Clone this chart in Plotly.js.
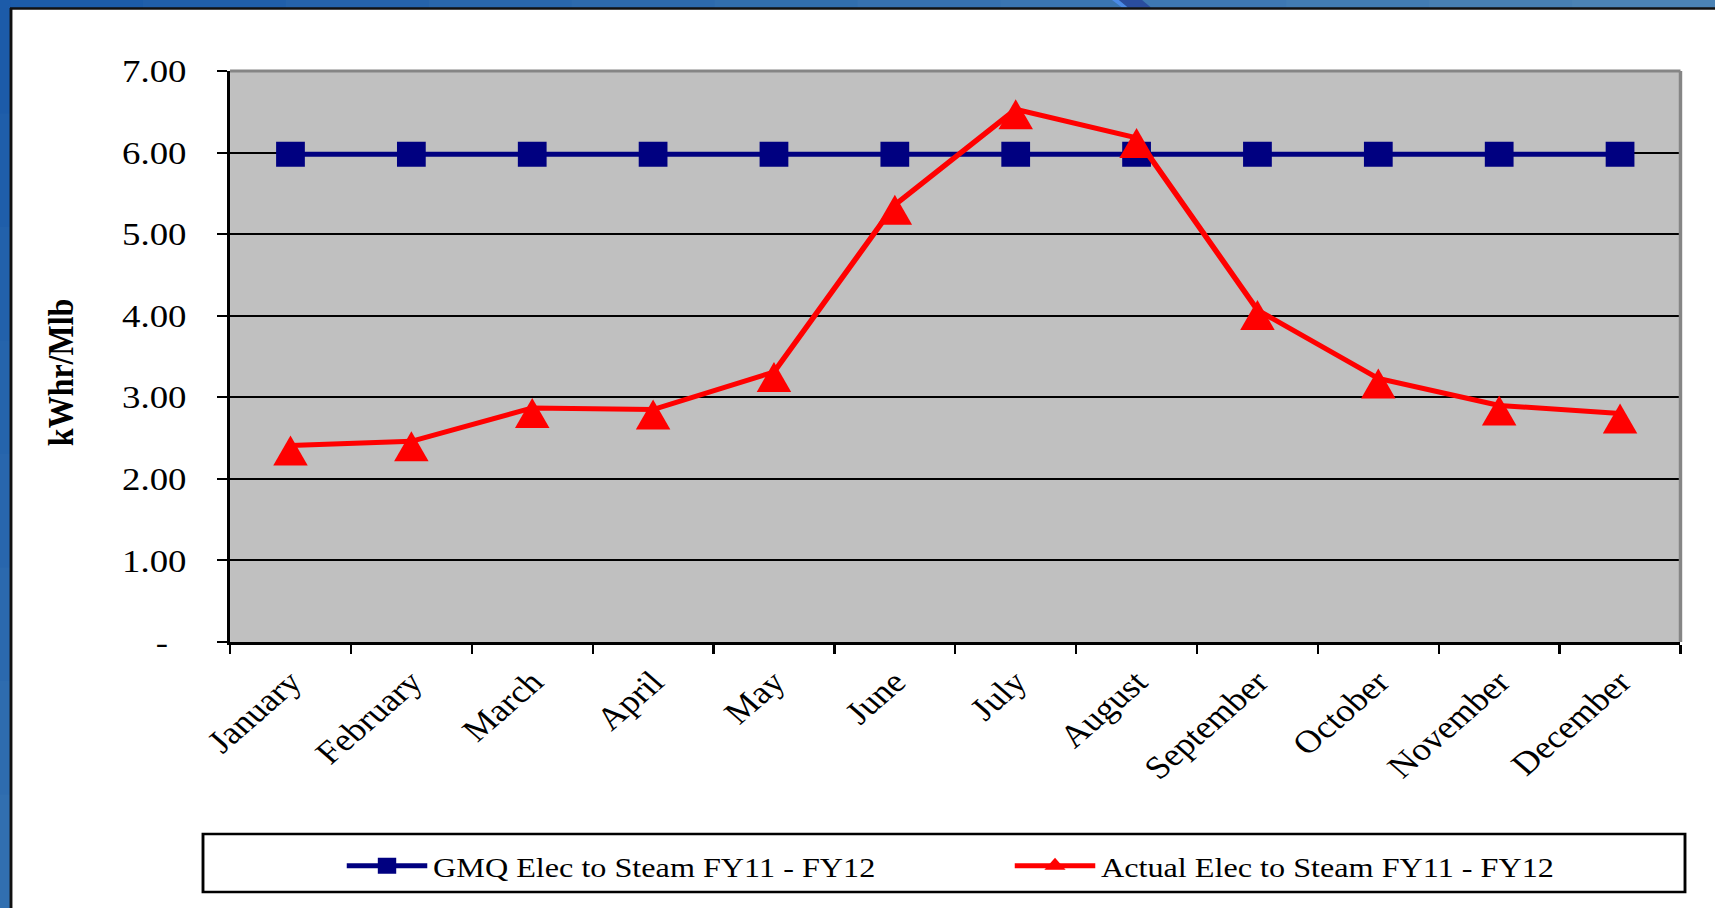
<!DOCTYPE html>
<html>
<head>
<meta charset="utf-8">
<script src="https://cdn.plot.ly/plotly-3.0.1.min.js"></script>
<style>
  html, body { margin: 0; padding: 0; background: #ffffff; overflow: hidden; }
  #chart { width: 1491px; height: 908px; transform-origin: 0 0; }
</style>
</head>
<body>
<div id="chart"></div>
<script>
// ---- data ----
const months = ["January", "February", "March", "April", "May", "June",
                "July", "August", "September", "October", "November", "December"];
const gmqValues = [5.98, 5.98, 5.98, 5.98, 5.98, 5.98, 5.98, 5.98, 5.98, 5.98, 5.98, 5.98];
const actualValues = [2.41, 2.46, 2.87, 2.85, 3.31, 5.36, 6.53, 6.18, 4.07, 3.23, 2.90, 2.80];
const yTickVals = [0, 1, 2, 3, 4, 5, 6, 7];
const yTickLabels = ["-\u00a0\u00a0", "1.00", "2.00", "3.00", "4.00", "5.00", "6.00", "7.00"];
const gmqName = "GMQ Elec to Steam FY11 - FY12";
const actualName = "Actual Elec to Steam FY11 - FY12";
const yTitle = "kWhr/Mlb";

// ---- geometry (the drawing is rendered narrower and stretched horizontally) ----
const W = 1491, H = 908, S = 1715 / W;
const ML = 200, MR = 30, MT = 71, MB = 266;
const PW = W - ML - MR, PH = H - MT - MB;
document.getElementById('chart').style.transform = 'scaleX(' + S + ')';
function px2x(p) { return (p / S - ML) / PW; }
function py2y(q) { return (H - MB - q) / PH; }

const FONT = 'Liberation Serif, Times New Roman, serif';

function hexLerp(a, b, t) {
  const pa = [1, 3, 5].map(i => parseInt(a.substr(i, 2), 16));
  const pb = [1, 3, 5].map(i => parseInt(b.substr(i, 2), 16));
  return 'rgb(' + pa.map((v, i) => Math.round(v + (pb[i] - v) * t)).join(',') + ')';
}

const shapes = [];
// top blue strip (gradient in segments)
const nTop = 12;
for (let i = 0; i < nTop; i++) {
  shapes.push({type: 'rect', xref: 'paper', yref: 'paper', layer: 'above',
    x0: px2x(1715 * i / nTop), x1: px2x(1715 * (i + 1) / nTop + 1),
    y0: py2y(0), y1: py2y(8),
    fillcolor: hexLerp('#1a5aa8', '#4d85b6', (i + 0.5) / nTop), line: {width: 0}});
}
// left blue strip
const nLeft = 8;
for (let i = 0; i < nLeft; i++) {
  shapes.push({type: 'rect', xref: 'paper', yref: 'paper', layer: 'above',
    x0: px2x(0), x1: px2x(11),
    y0: py2y(908 * i / nLeft), y1: py2y(908 * (i + 1) / nLeft + 1),
    fillcolor: hexLerp('#1a5aa8', '#3270b0', (i + 0.5) / nLeft), line: {width: 0}});
}
// small decorative band at top
shapes.push({type: 'path', xref: 'paper', yref: 'paper', layer: 'above',
  path: 'M' + px2x(1112) + ',' + py2y(0) + 'L' + px2x(1119) + ',' + py2y(0) + 'L' + px2x(1128) + ',' + py2y(7.5) + 'L' + px2x(1122) + ',' + py2y(7.5) + 'Z',
  fillcolor: '#4a8ae6', line: {width: 0}});
shapes.push({type: 'path', xref: 'paper', yref: 'paper', layer: 'above',
  path: 'M' + px2x(1119) + ',' + py2y(0) + 'L' + px2x(1142) + ',' + py2y(0) + 'L' + px2x(1151) + ',' + py2y(7.5) + 'L' + px2x(1128) + ',' + py2y(7.5) + 'Z',
  fillcolor: '#2a4d9e', line: {width: 0}});
// black panel borders
shapes.push({type: 'line', xref: 'paper', yref: 'paper', layer: 'above',
  x0: px2x(10), x1: px2x(1716), y0: py2y(8.5), y1: py2y(8.5), line: {color: '#111111', width: 2.5}});
shapes.push({type: 'line', xref: 'paper', yref: 'paper', layer: 'above',
  x0: px2x(11), x1: px2x(11), y0: py2y(8), y1: py2y(909), line: {color: '#111111', width: 2.5}});
// grey plot frame (top and right)
shapes.push({type: 'line', xref: 'paper', yref: 'paper', layer: 'above',
  x0: 0, x1: 1, y0: 1, y1: 1, line: {color: '#858585', width: 3}});
shapes.push({type: 'line', xref: 'paper', yref: 'paper', layer: 'above',
  x0: 1, x1: 1, y0: 0, y1: 1, line: {color: '#858585', width: 3}});
// legend box
shapes.push({type: 'rect', xref: 'paper', yref: 'paper', layer: 'above',
  x0: px2x(203), x1: px2x(1685), y0: py2y(834), y1: py2y(892),
  fillcolor: 'rgba(0,0,0,0)', line: {color: '#000000', width: 2.5}});

const traces = [
  {
    type: 'scatter', mode: 'lines+markers', name: gmqName, legend: 'legend',
    x: months, y: gmqValues,
    line: {color: '#000080', width: 5},
    marker: {symbol: 'square', size: 25, color: '#000080'}
  },
  {
    type: 'scatter', mode: 'lines+markers', name: actualName, showlegend: false,
    x: months, y: actualValues,
    line: {color: '#ff0000', width: 5},
    marker: {symbol: 'arrow-down', angle: 180, standoff: 10, size: 30, color: '#ff0000'}
  },
  {
    // legend entry for the actual series (a single gap, nothing is drawn)
    type: 'scatter', mode: 'lines+markers', name: actualName, legend: 'legend2',
    x: [months[0]], y: [null],
    line: {color: '#ff0000', width: 5},
    marker: {symbol: 'triangle-up', size: 18, color: '#ff0000'}
  }
];

const legendCommon = {
  orientation: 'h', xref: 'paper', yref: 'paper', xanchor: 'left', yanchor: 'middle',
  bgcolor: 'rgba(0,0,0,0)', borderwidth: 0, itemwidth: 70,
  font: {family: FONT, size: 28, color: '#000000'}
};

const layout = {
  width: W, height: H,
  margin: {l: ML, r: MR, t: MT, b: MB, pad: 0},
  paper_bgcolor: '#ffffff',
  plot_bgcolor: '#c0c0c0',
  showlegend: true,
  legend: Object.assign({}, legendCommon, {x: px2x(341), y: py2y(866)}),
  legend2: Object.assign({}, legendCommon, {x: px2x(1009), y: py2y(866)}),
  xaxis: {
    type: 'category', range: [-0.5, 11.5], fixedrange: true,
    showline: true, linecolor: '#000000', linewidth: 2.5,
    ticks: 'outside', tickson: 'boundaries', ticklen: 9, tickwidth: 2, tickcolor: '#000000',
    tickangle: -45, ticklabelstandoff: 6,
    tickfont: {family: FONT, size: 32, color: '#000000'},
    showgrid: false, zeroline: false
  },
  yaxis: {
    range: [0, 7], fixedrange: true,
    tickmode: 'array', tickvals: yTickVals, ticktext: yTickLabels,
    showline: true, linecolor: '#000000', linewidth: 2.5,
    ticks: 'outside', ticklen: 9, tickwidth: 2, tickcolor: '#000000',
    ticklabelstandoff: 20,
    tickfont: {family: FONT, size: 32, color: '#000000'},
    showgrid: true, gridcolor: '#000000', gridwidth: 2, zeroline: false
  },
  annotations: [{
    text: '<b>' + yTitle + '</b>', xref: 'paper', yref: 'paper',
    x: px2x(60), y: py2y(372), xanchor: 'center', yanchor: 'middle',
    textangle: -90, showarrow: false,
    font: {family: FONT, size: 32, color: '#000000'}
  }],
  shapes: shapes
};

Plotly.newPlot('chart', traces, layout, {displayModeBar: false, staticPlot: true});
</script>
</body>
</html>
